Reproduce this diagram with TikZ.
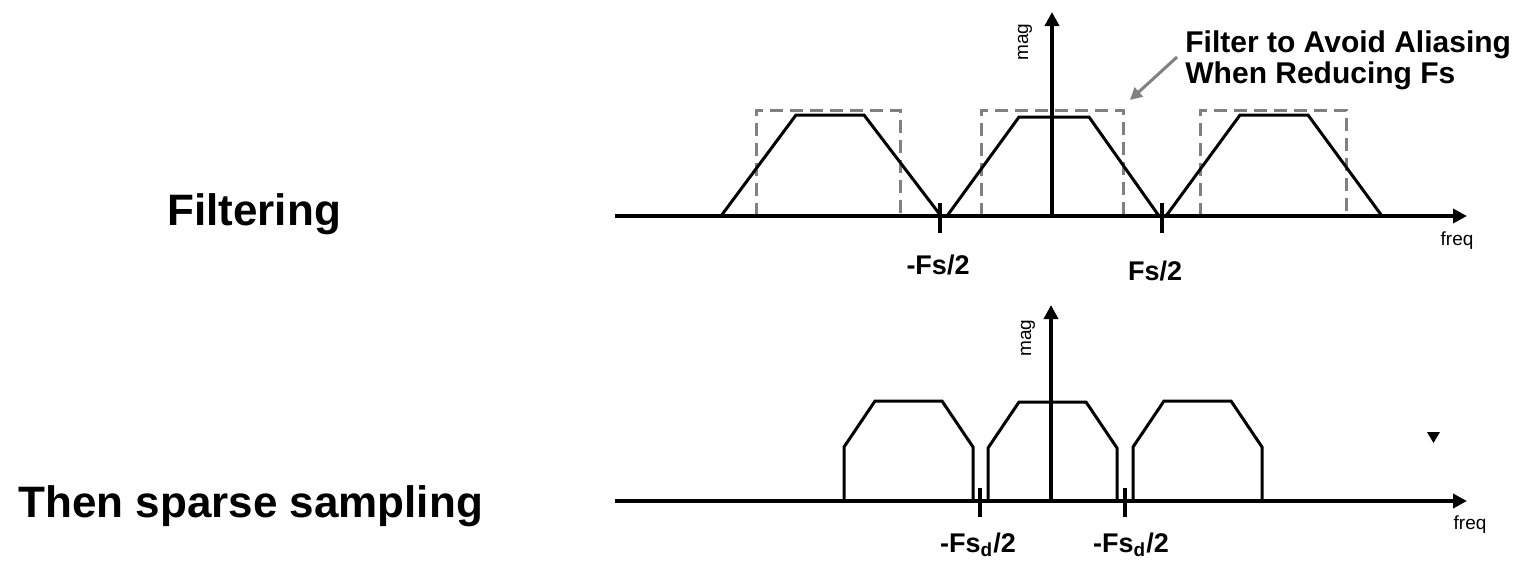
\documentclass[tikz,border=0pt]{standalone}
\usepackage{fontspec}
\setmainfont{Liberation Sans}
\usetikzlibrary{arrows.meta}
\definecolor{filtgray}{RGB}{128,128,128}
\tikzset{
  axisline/.style={line width=2pt, -{Triangle[length=7pt,width=7pt]}},
  tickline/.style={line width=2pt},
  specline/.style={line width=1.5pt, line join=miter},
  filterbox/.style={line width=1.5pt, draw=filtgray, dash pattern=on 6.5pt off 3.5pt},
  bigtitle/.style={font=\fontsize{22pt}{26pt}\selectfont\bfseries, anchor=base west, inner sep=0pt},
  ticklabel/.style={font=\fontsize{13.5pt}{16pt}\selectfont\bfseries, anchor=base, inner sep=0pt},
  notelabel/.style={font=\fontsize{15pt}{15.5pt}\selectfont\bfseries, anchor=base west, inner sep=0pt, align=left},
  axislabel/.style={font=\fontsize{9.5pt}{10pt}\selectfont, inner sep=0pt},
  notearrow/.style={draw=filtgray, line width=1.5pt, -{Triangle[length=6pt,width=6pt]}}
}
\begin{document}
\begin{tikzpicture}[x=0.5pt,y=-0.5pt]
\useasboundingbox (0,0) rectangle (1524,574);

% ---------- titles ----------
\node[bigtitle] (tfilt) at (167,225) {Filtering};
\node[bigtitle] (tsamp) at (18,517) {Then sparse sampling};

% ---------- top plot ----------
\coordinate (tx0) at (615,216);
\coordinate (tx1) at (1467,216);
\coordinate (ty0) at (1052,216);
\coordinate (ty1) at (1052,12);

% dashed filters
\draw[filterbox] (756,216) -- (756,110) -- (900,110) -- (900,216);
\draw[filterbox] (981,216) -- (981,110) -- (1123,110) -- (1123,216);
\draw[filterbox] (1200,216) -- (1200,110) -- (1346,110) -- (1346,216);

% spectra
\draw[specline] (721,216) -- (796,115) -- (864,115) -- (941,216);
\draw[specline] (947,216) -- (1019,117) -- (1089,117) -- (1159,216);
\draw[specline] (1166,216) -- (1240,115) -- (1308,115) -- (1382,216);

% axes
\draw[axisline] (tx0) -- (tx1);
\draw[axisline] (ty0) -- (ty1);
\draw[tickline] (940,203) -- (940,233);
\draw[tickline] (1162,203) -- (1162,233);

\node[axislabel, rotate=90] (tmag) at (1025,42) {mag};
\node[axislabel] (tfreq) at (1457,241) {freq};
\node[ticklabel] (tneg) at (938,274) {-Fs/2};
\node[ticklabel] (tpos) at (1155,280) {Fs/2};

% annotation
\node[notelabel] (note) at (1185,83) {Filter to Avoid Aliasing\\When Reducing Fs};
\coordinate (notetail) at (1177,57);
\coordinate (notetip) at (1130,100);
\draw[notearrow] (notetail) -- (notetip);

% ---------- bottom plot ----------
\coordinate (bx0) at (615,501);
\coordinate (bx1) at (1467,501);
\coordinate (by0) at (1051,501);
\coordinate (by1) at (1051,305);

\draw[specline] (844,501) -- (844,447) -- (875,401) -- (942,401) -- (973,447) -- (973,501);
\draw[specline] (988,501) -- (988,448) -- (1019,402) -- (1086,402) -- (1117,448) -- (1117,501);
\draw[specline] (1133,501) -- (1133,447) -- (1164,401) -- (1231,401) -- (1262,447) -- (1262,501);

\draw[axisline] (bx0) -- (bx1);
\draw[axisline] (by0) -- (by1);
\draw[tickline] (980,488) -- (980,517);
\draw[tickline] (1125,488) -- (1125,517);

\node[axislabel, rotate=90] (bmag) at (1028,338) {mag};
\node[axislabel] (bfreq) at (1470,525) {freq};
\node[ticklabel] (bneg) at (978,552) {-Fs\textsubscript{d}/2};
\node[ticklabel] (bpos) at (1131,552) {-Fs\textsubscript{d}/2};

% small marker
\fill (1427,432) -- (1440,432) -- (1433.5,443) -- cycle;
\end{tikzpicture}
\end{document}
